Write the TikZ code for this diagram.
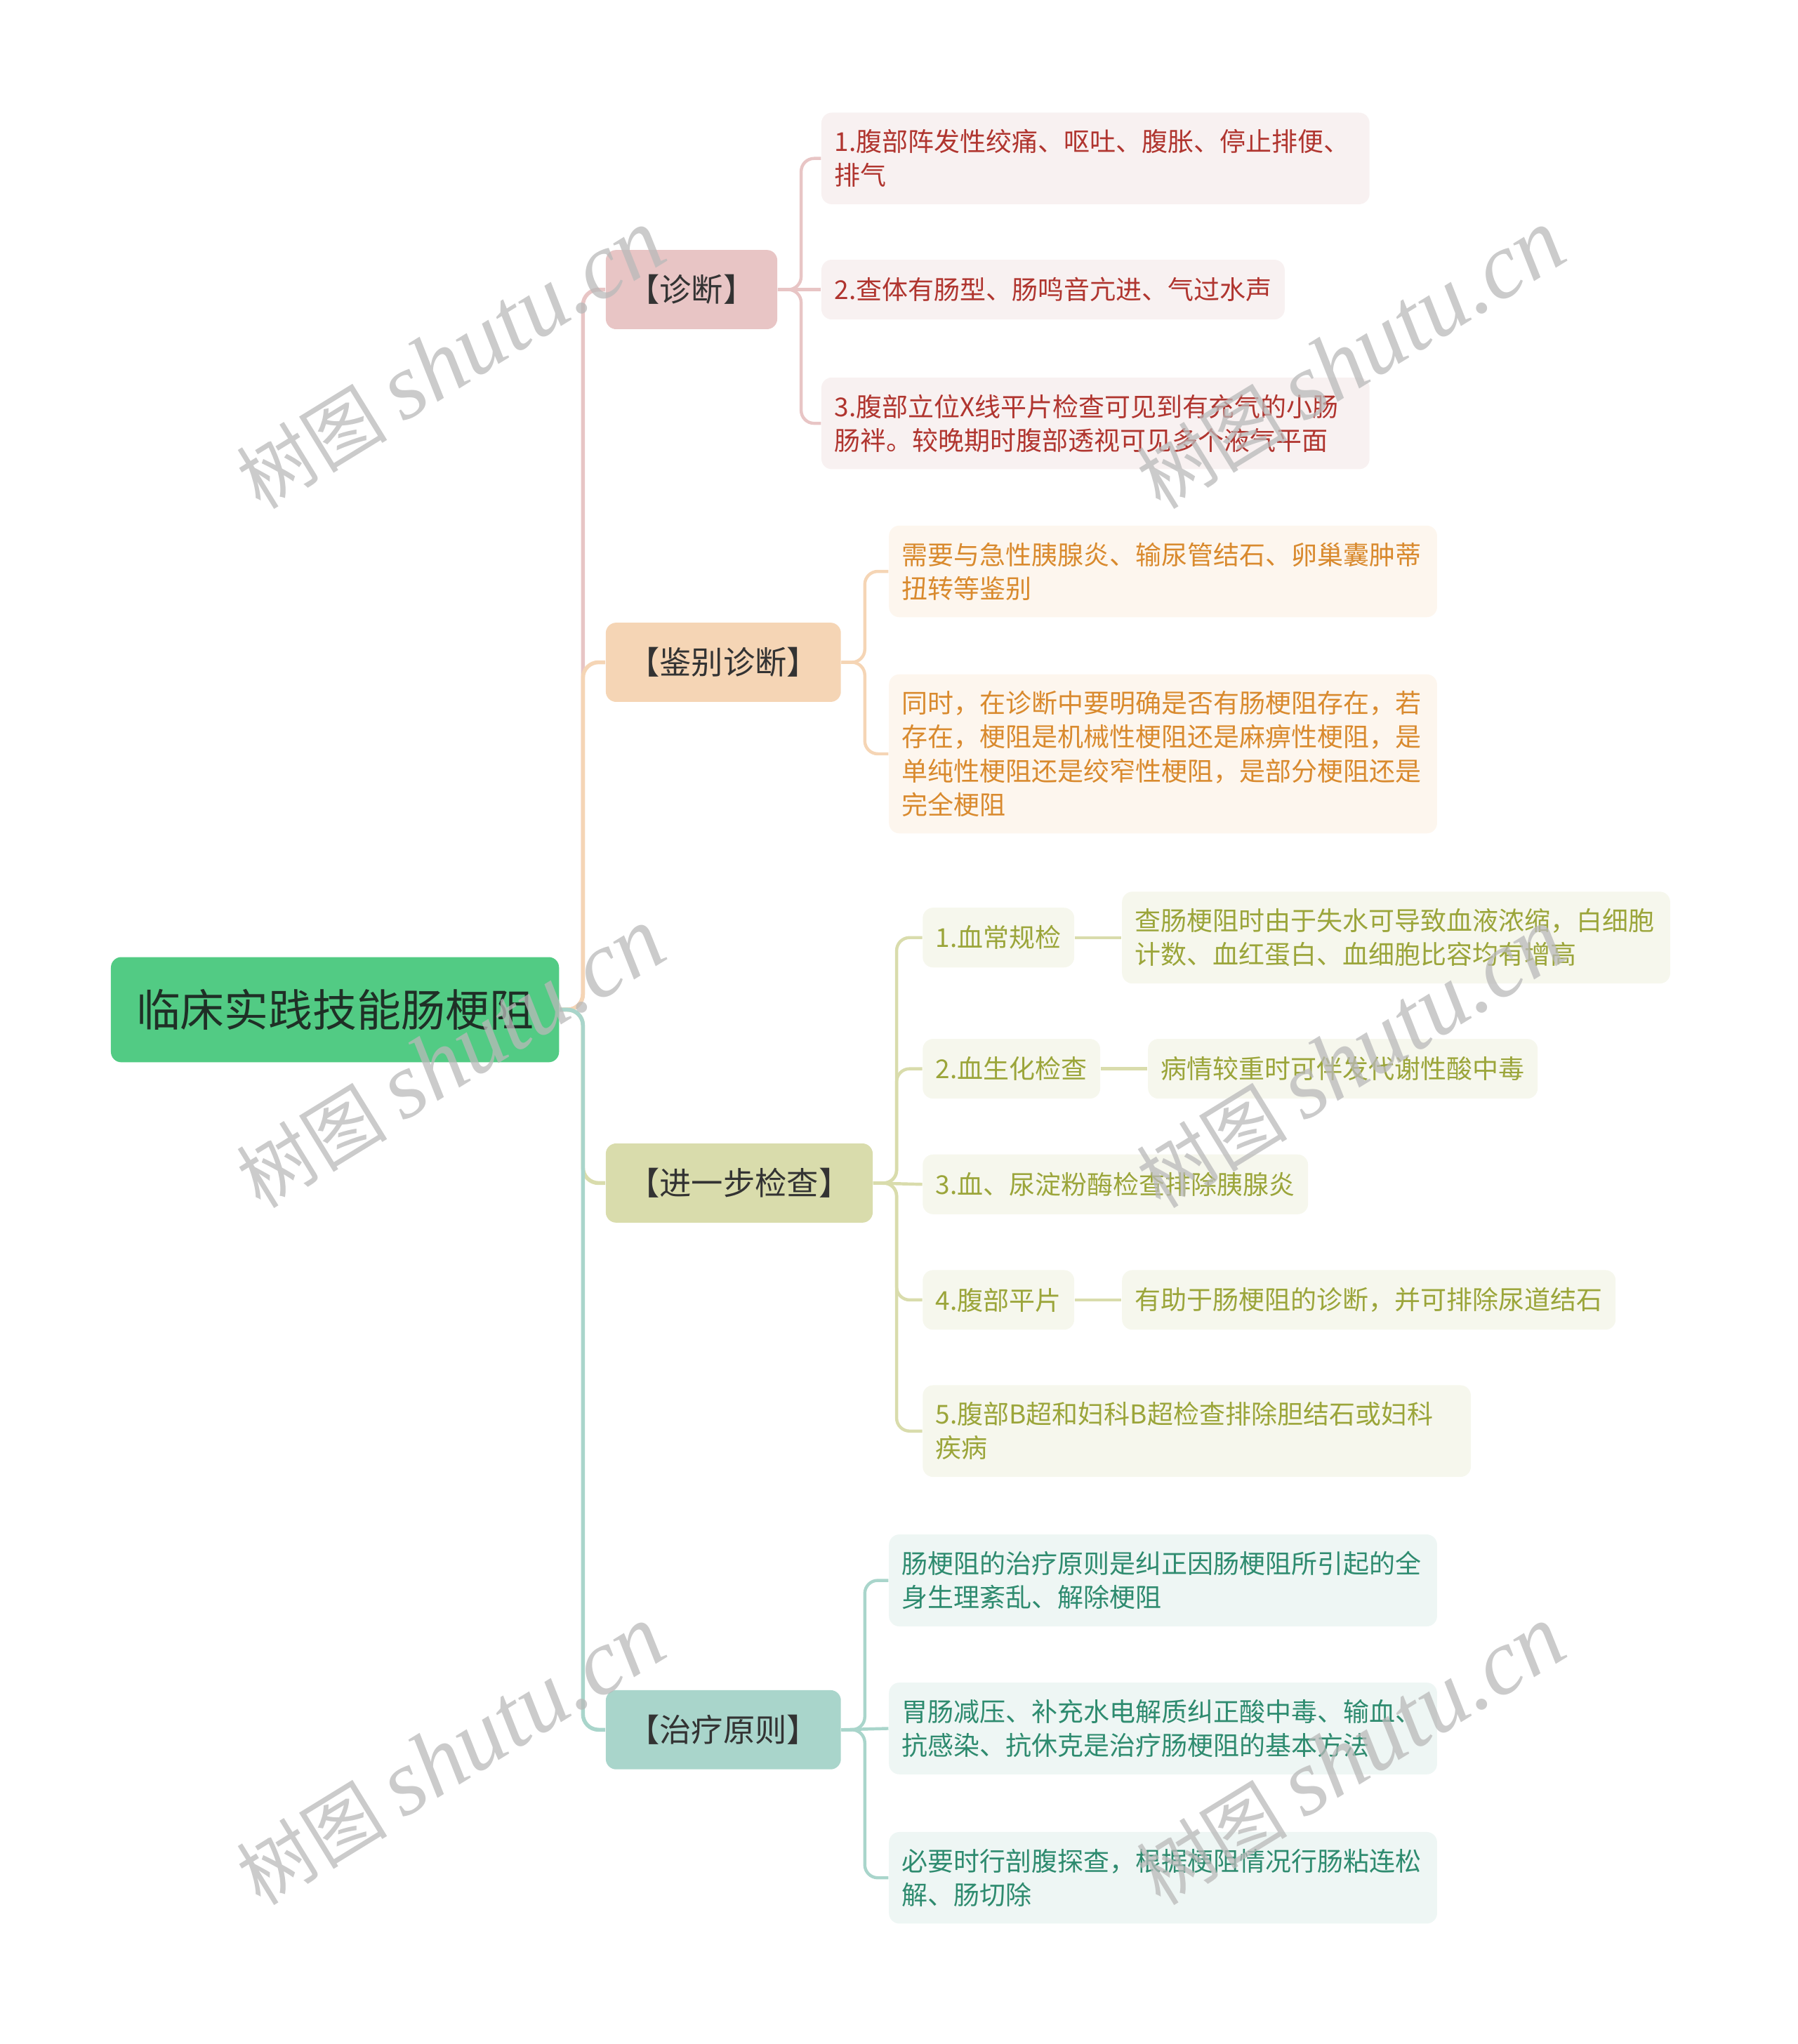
\documentclass[tikz,border=0pt]{standalone}
\usepackage{fontspec}
\setmainfont{Noto Sans CJK SC}
\newfontfamily\wmlatin{Liberation Serif}
\usetikzlibrary{positioning}

\definecolor{rootfill}{HTML}{52CB84}
\definecolor{roottext}{HTML}{1F2F26}
\definecolor{zdfill}{HTML}{E8C5C5}
\definecolor{zdleaf}{HTML}{F8F1F1}
\definecolor{zdtext}{HTML}{B0352F}
\definecolor{jbfill}{HTML}{F5D5B5}
\definecolor{jbleaf}{HTML}{FDF6EE}
\definecolor{jbtext}{HTML}{D98A2E}
\definecolor{jcfill}{HTML}{D9DCAC}
\definecolor{jcleaf}{HTML}{F6F7ED}
\definecolor{jctext}{HTML}{9BA53A}
\definecolor{zlfill}{HTML}{A9D5CB}
\definecolor{zlleaf}{HTML}{EEF6F4}
\definecolor{zltext}{HTML}{2E8B6F}

\begin{document}
\begin{tikzpicture}
[x=0.5pt, y=-0.5pt, node distance=18pt,
root/.style = 
{fill=rootfill, text=roottext, rounded corners=4pt, minimum width=172.5pt,
 minimum height=40.5pt, font=\fontsize{17pt}{20pt}\selectfont},
branch/.style = 
{anchor=west, rounded corners=4pt, minimum height=30.5pt, inner xsep=8.5pt,
 text=black!80, font=\fontsize{12.25pt}{15pt}\selectfont},
leaf/.style = 
{rounded corners=4pt, minimum height=23pt, inner xsep=5pt, inner ysep=6.5pt,
 align=left, font=\fontsize{10pt}{13pt}\selectfont},
wide/.style = {text width=201pt},
zd/.style = {leaf, anchor=west, fill=zdleaf, text=zdtext},
jb/.style = {leaf, anchor=west, fill=jbleaf, text=jbtext},
jc/.style = {leaf, fill=jcleaf, text=jctext},
zl/.style = {leaf, anchor=west, fill=zlleaf, text=zltext},
trunk/.style = {line width=1.5pt, rounded corners=6pt},
twig/.style = {line width=1.2pt, rounded corners=5pt},
wm/.style = {text=gray!55, opacity=0.75, rotate=31.6}]

\useasboundingbox (0,0) rectangle (1384,1574);

\node [root, anchor=west] (root) at (85,777.5) {临床实践技能肠梗阻};

\node [branch, fill=zdfill] (zhenduan) at (466,223) {【诊断】};
\node [branch, fill=jbfill] (jianbie) at (466,510) {【鉴别诊断】};
\node [branch, fill=jcfill] (jiancha) at (466,911) {【进一步检查】};
\node [branch, fill=zlfill] (zhiliao) at (466,1332) {【治疗原则】};

% 诊断
\node [zd, wide] (zd1) at (632,122) {1.腹部阵发性绞痛、呕吐、腹胀、停止排便、\\排气};
\node [zd] (zd2) at (632,223) {2.查体有肠型、肠鸣音亢进、气过水声};
\node [zd, wide] (zd3) at (632,326) {3.腹部立位X线平片检查可见到有充气的小肠\\肠袢。较晚期时腹部透视可见多个液气平面};

% 鉴别诊断
\node [jb, wide] (jb1) at (684,440) {需要与急性胰腺炎、输尿管结石、卵巢囊肿蒂\\扭转等鉴别};
\node [jb, wide] (jb2) at (684,580.5) {同时，在诊断中要明确是否有肠梗阻存在，若\\存在，梗阻是机械性梗阻还是麻痹性梗阻，是\\单纯性梗阻还是绞窄性梗阻，是部分梗阻还是\\完全梗阻};

% 进一步检查
\node [jc, anchor=west] (jc1) at (710,722) {1.血常规检};
\node [jc, wide, right=of jc1] (jc1x) {查肠梗阻时由于失水可导致血液浓缩，白细胞\\计数、血红蛋白、血细胞比容均有增高};
\node [jc, anchor=west] (jc2) at (710,823) {2.血生化检查};
\node [jc, right=of jc2] (jc2x) {病情较重时可伴发代谢性酸中毒};
\node [jc, anchor=west] (jc3) at (710,912) {3.血、尿淀粉酶检查排除胰腺炎};
\node [jc, anchor=west] (jc4) at (710,1001) {4.腹部平片};
\node [jc, right=of jc4] (jc4x) {有助于肠梗阻的诊断，并可排除尿道结石};
\node [jc, wide, anchor=west] (jc5) at (710,1102) {5.腹部B超和妇科B超检查排除胆结石或妇科\\疾病};

% 治疗原则
\node [zl, wide] (zl1) at (684,1217) {肠梗阻的治疗原则是纠正因肠梗阻所引起的全\\身生理紊乱、解除梗阻};
\node [zl, wide] (zl2) at (684,1331) {胃肠减压、补充水电解质纠正酸中毒、输血、\\抗感染、抗休克是治疗肠梗阻的基本方法};
\node [zl, wide] (zl3) at (684,1446) {必要时行剖腹探查，根据梗阻情况行肠粘连松\\解、肠切除};

% trunk
\draw [trunk, zdfill] (root.east) -- ++(9pt,0) |- (zhenduan.west);
\draw [trunk, jbfill] (root.east) -- ++(9pt,0) |- (jianbie.west);
\draw [trunk, jcfill] (root.east) -- ++(9pt,0) |- (jiancha.west);
\draw [trunk, zlfill] (root.east) -- ++(9pt,0) |- (zhiliao.west);

% twigs
\draw [twig, zdfill] (zhenduan.east) -- ++(9pt,0) |- (zd1.west);
\draw [twig, zdfill] (zhenduan.east) -- (zd2.west);
\draw [twig, zdfill] (zhenduan.east) -- ++(9pt,0) |- (zd3.west);

\draw [twig, jbfill] (jianbie.east) -- ++(9pt,0) |- (jb1.west);
\draw [twig, jbfill] (jianbie.east) -- ++(9pt,0) |- (jb2.west);

\draw [twig, jcfill] (jiancha.east) -- ++(9pt,0) |- (jc1.west);
\draw [twig, jcfill] (jiancha.east) -- ++(9pt,0) |- (jc2.west);
\draw [twig, jcfill] (jiancha.east) -- (jc3.west);
\draw [twig, jcfill] (jiancha.east) -- ++(9pt,0) |- (jc4.west);
\draw [twig, jcfill] (jiancha.east) -- ++(9pt,0) |- (jc5.west);
\path [draw, twig, jcfill]
(jc1)edge(jc1x) (jc2)edge(jc2x) (jc4)edge(jc4x);

\draw [twig, zlfill] (zhiliao.east) -- ++(9pt,0) |- (zl1.west);
\draw [twig, zlfill] (zhiliao.east) -- (zl2.west);
\draw [twig, zlfill] (zhiliao.east) -- ++(9pt,0) |- (zl3.west);

% watermark
\foreach \wx in {347,1040}
  \foreach \wy in {277,815,1352}
    \node [wm] at (\wx,\wy) {\fontsize{29pt}{30pt}\selectfont 树图 {\wmlatin\itshape\fontsize{36pt}{36pt}\selectfont shutu.cn}};

\end{tikzpicture}
\end{document}
